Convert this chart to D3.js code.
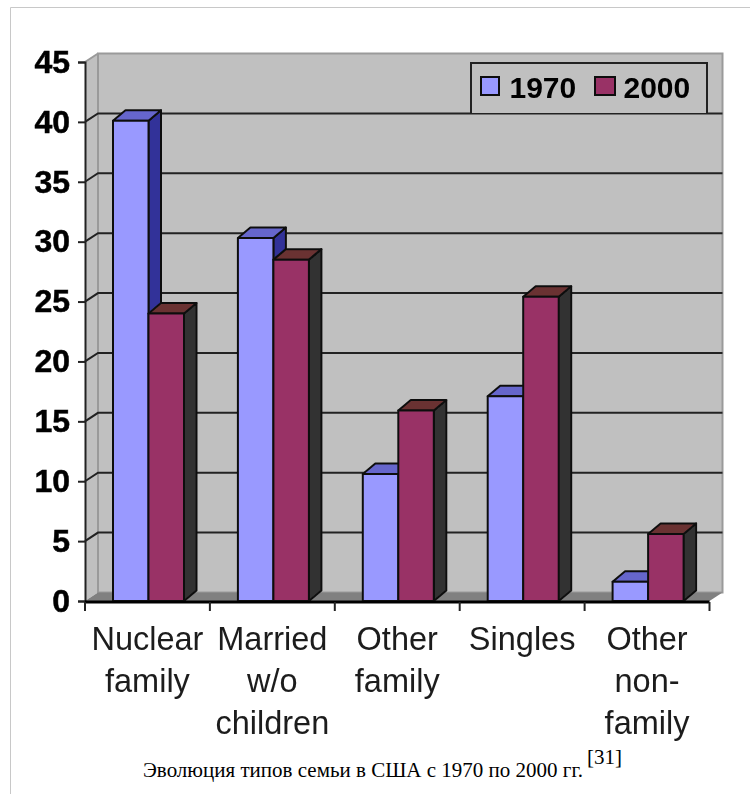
<!DOCTYPE html>
<html>
<head>
<meta charset="utf-8">
<script src="https://cdn.jsdelivr.net/npm/d3@7"></script>
<style>
	html, body { margin: 0; padding: 0; background: #fff; }
	svg { display: block; }
</style>
</head>
<body>
<div id="chart"></div>
<script>
// values
const categories = ["Nuclear family", "Married w/o children", "Other family", "Singles", "Other non-family"];
const categoryLines = [["Nuclear", "family"], ["Married", "w/o", "children"], ["Other", "family"], ["Singles"], ["Other", "non-", "family"]];
const seriesNames = ["1970", "2000"];
const values1970 = [40.1, 30.3, 10.6, 17.1, 1.6];
const values2000 = [24, 28.5, 15.9, 25.4, 5.6];
const yTicks = [0, 5, 10, 15, 20, 25, 30, 35, 40, 45];

const front = ["#9999ff", "#993366"];
const top3d = ["#6666cc", "#6b3333"];
const side = ["#333399", "#333333"];
const lineCol = "#222";

const width = 750, height = 794;
const svg = d3.select("#chart").append("svg")
	.attr("width", width)
	.attr("height", height);

// the source is a slightly blurred raster, so soften the chart a bit
svg.append("filter").attr("id", "soft")
	.append("feGaussianBlur").attr("stdDeviation", 0.55);

// page frame
svg.append("path")
	.attr("d", "M10.5,794V7.5H750")
	.attr("fill", "none")
	.attr("stroke", "#c8c8c8");

const chart = svg.append("g").attr("filter", "url(#soft)");

const x = d3.scaleBand().domain(categories).range([85, 709.5]);
const y = d3.scaleLinear().domain([0, 45]).range([601, 62]);
const inner = d3.scaleBand().domain(seriesNames).range([28, 99]);

// depth of the walls and of the bars
const wallDx = 13, wallDy = 8.5;
const barDx = 12.5, barDy = 10.5;

const x0 = x.range()[0], x1 = x.range()[1];
const pts = (a) => a.map((p) => p.join(",")).join(" ");

// left wall
chart.append("polygon")
	.attr("points", pts([[x0, y(45)], [x0 + wallDx, y(45) - wallDy], [x0 + wallDx, y(0) - wallDy], [x0, y(0)]]))
	.attr("fill", "#c0c0c0");
// back wall
chart.append("rect")
	.attr("x", x0 + wallDx)
	.attr("y", y(45) - wallDy)
	.attr("width", x1 - x0)
	.attr("height", y(0) - y(45))
	.attr("fill", "#c0c0c0")
	.attr("stroke", "#9a9a9a")
	.attr("stroke-width", 2);
// floor
chart.append("polygon")
	.attr("points", pts([[x0, y(0)], [x0 + wallDx, y(0) - wallDy], [x1 + wallDx, y(0) - wallDy], [x1, y(0)]]))
	.attr("fill", "#808080");

// gridlines, running over the side wall and the back wall
const grid = yTicks.filter((d) => d > 0 && d < 45);
chart.append("g").selectAll("path")
	.data(grid)
	.enter()
	.append("path")
	.attr("d", (d) => `M${x0},${y(d)}L${x0 + wallDx},${y(d) - wallDy}H${x1 + wallDx}`)
	.attr("fill", "none")
	.attr("stroke", lineCol)
	.attr("stroke-width", 2);
chart.append("path")
	.attr("d", `M${x0},${y(45)}L${x0 + wallDx},${y(45) - wallDy}`)
	.attr("stroke", "#9a9a9a")
	.attr("stroke-width", 2);

// bars, 1970 first so that 2000 covers its side face
const rows = categories.map((c, i) => ({ c, vals: [values1970[i], values2000[i]] }));
const groups = chart.append("g").selectAll("g")
	.data(rows)
	.enter()
	.append("g")
	.attr("transform", (d) => `translate(${x(d.c)},0)`);

seriesNames.forEach((s, k) => {
	const bw = inner.bandwidth();
	const left = inner(s);
	const common = (sel) => sel.attr("stroke", "#111").attr("stroke-width", 2).attr("stroke-linejoin", "round");

	groups.append("polygon")
		.attr("points", (d) => pts([[left + bw, y(d.vals[k])], [left + bw + barDx, y(d.vals[k]) - barDy], [left + bw + barDx, y(0) - barDy], [left + bw, y(0)]]))
		.attr("fill", side[k])
		.call(common);
	groups.append("polygon")
		.attr("points", (d) => pts([[left, y(d.vals[k])], [left + barDx, y(d.vals[k]) - barDy], [left + bw + barDx, y(d.vals[k]) - barDy], [left + bw, y(d.vals[k])]]))
		.attr("fill", top3d[k])
		.call(common);
	groups.append("rect")
		.attr("x", left)
		.attr("y", (d) => y(d.vals[k]))
		.attr("width", bw)
		.attr("height", (d) => y(0) - y(d.vals[k]))
		.attr("fill", front[k])
		.call(common);
});

// y axis
const yAxis = chart.append("g")
	.attr("transform", `translate(${x0},0)`)
	.call(d3.axisLeft(y).tickValues(yTicks).tickSize(7).tickPadding(8));
yAxis.selectAll("line").attr("stroke", lineCol).attr("stroke-width", 2);
yAxis.select(".domain").attr("stroke", lineCol).attr("stroke-width", 2);
yAxis.selectAll("text")
	.attr("font-family", "'Liberation Sans', Arial, sans-serif")
	.attr("font-weight", "bold")
	.attr("font-size", 32)
	.attr("fill", "#000")
	.attr("stroke", "#000")
	.attr("stroke-width", 0.5);

// x axis, ticks sit between the categories
const xAxis = chart.append("g")
	.attr("transform", `translate(0,${y(0) + 1})`);
xAxis.append("line")
	.attr("x1", x0).attr("x2", x1)
	.attr("stroke", "#000").attr("stroke-width", 3);
xAxis.selectAll(".tick")
	.data(categories.concat(["end"]))
	.enter()
	.append("line")
	.attr("class", "tick")
	.attr("x1", (d) => d === "end" ? x1 : x(d))
	.attr("x2", (d) => d === "end" ? x1 : x(d))
	.attr("y1", 0).attr("y2", 9)
	.attr("stroke", lineCol).attr("stroke-width", 2);

// category labels
const labels = chart.append("g").selectAll("text")
	.data(categories)
	.enter()
	.append("text")
	.attr("text-anchor", "middle")
	.attr("font-family", "'Liberation Sans', Arial, sans-serif")
	.attr("font-size", 32.5)
	.attr("fill", "#1c1c1c");
labels.selectAll("tspan")
	.data((d, i) => categoryLines[i].map((t, j) => ({ t, j, c: d })))
	.enter()
	.append("tspan")
	.attr("x", (d) => x(d.c) + x.bandwidth() / 2)
	.attr("y", (d) => 650 + d.j * 42)
	.text((d) => d.t);

// legend
const legend = chart.append("g");
legend.append("path")
	.attr("d", "M471,113V63H707V113")
	.attr("fill", "#c0c0c0")
	.attr("stroke", lineCol)
	.attr("stroke-width", 2);
const legendX = d3.scaleOrdinal().domain(seriesNames).range([481, 595]);
const legendW = d3.scaleOrdinal().domain(seriesNames).range([18, 20]);
legend.selectAll("rect")
	.data(seriesNames)
	.enter()
	.append("rect")
	.attr("x", (d) => legendX(d))
	.attr("y", 77)
	.attr("width", (d) => legendW(d))
	.attr("height", 18)
	.attr("fill", (d, i) => front[i])
	.attr("stroke", "#111")
	.attr("stroke-width", 2);
legend.selectAll("text")
	.data(seriesNames)
	.enter()
	.append("text")
	.attr("x", (d) => legendX(d) + 28.5)
	.attr("y", 98)
	.attr("font-family", "'Liberation Sans', Arial, sans-serif")
	.attr("font-weight", "bold")
	.attr("font-size", 30)
	.attr("fill", "#000")
	.text((d) => d);

// caption
const caption = svg.append("text")
	.attr("x", 143)
	.attr("y", 777)
	.attr("font-family", "'Liberation Serif', serif")
	.attr("font-size", 21)
	.attr("fill", "#000")
	.text("Эволюция типов семьи в США с 1970 по 2000 гг.");
svg.append("text")
	.attr("x", 587)
	.attr("y", 764)
	.attr("font-family", "'Liberation Serif', serif")
	.attr("font-size", 21)
	.attr("fill", "#000")
	.text("[31]");
</script>
</body>
</html>
